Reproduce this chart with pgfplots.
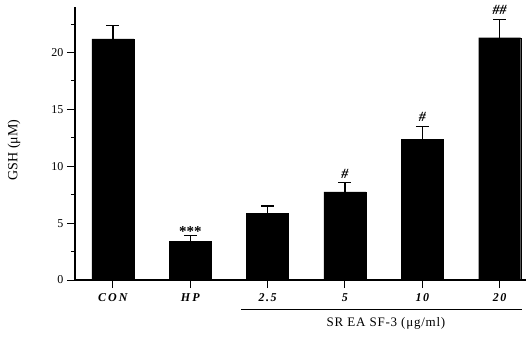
\documentclass[border=0pt]{standalone}
\usepackage{fontspec}
\setmainfont{Liberation Serif}
\usepackage{pgfplots}
\pgfplotsset{compat=1.18}
\begin{document}
\begin{tikzpicture}
\path[use as bounding box] (-75pt,-58pt) rectangle (451pt,280pt);
\begin{axis}[
  at={(0pt,0pt)}, anchor=south west,
  scale only axis, width=451pt, height=273pt,
  xmin=-0.49, xmax=5.34, ymin=0, ymax=24,
  axis x line=bottom, axis y line=left,
  axis line style={-, line width=1.2pt},
  xtick={0,1,2,3,4,5},
  xticklabels={C\,O\,N, H\,P, 2.5, 5, 10, 20},
  ytick={0,5,10,15,20},
  minor ytick={2.5,7.5,12.5,17.5,22.5},
  tick align=outside,
  major tick length=8pt, minor tick length=4pt,
  tick style={black, line width=1pt},
  /pgf/number format/assume math mode=true,
  yticklabel style={font=\fontsize{12}{14}\selectfont},
  xticklabel style={font=\fontsize{12}{14}\selectfont\bfseries\itshape\addfontfeature{LetterSpace=12}, yshift=-2pt},
  ylabel={GSH (μM)},
  every axis y label/.style={at={(-61pt,130pt)}, rotate=90, anchor=center, font=\fontsize{14}{16}\selectfont},
  clip=false,
]
\addplot[ybar, bar width=42pt, fill=black, draw=black,
  error bars/.cd, y dir=plus, y explicit,
  error bar style={black, line width=1.4pt},
  error mark options={black, rotate=90, mark size=6.5pt, line width=1.4pt}]
  coordinates {
    (0,21.2) +- (0,1.2)
    (1,3.4) +- (0,0.5)
    (2,5.85) +- (0,0.65)
    (3,7.75) +- (0,0.8)
    (4,12.35) +- (0,1.15)
    (5,21.3) +- (0,1.6)
  };
\node[font=\fontsize{15}{17}\selectfont\bfseries] at (axis cs:1,4.3) {***};
\node[font=\fontsize{14}{16}\selectfont\bfseries\itshape] at (axis cs:3,9.35) {\#};
\node[font=\fontsize{14}{16}\selectfont\bfseries\itshape] at (axis cs:4,14.3) {\#};
\node[font=\fontsize{14}{16}\selectfont\bfseries\itshape] at (axis cs:5,23.7) {\#\#};
\end{axis}
\draw[line width=1pt] (166pt,-29pt) -- (447pt,-29pt);
\node[font=\fontsize{13}{15}\selectfont\addfontfeature{LetterSpace=6}] at (311pt,-43pt) {SR EA SF-3 (μg/ml)};
\end{tikzpicture}
\end{document}
